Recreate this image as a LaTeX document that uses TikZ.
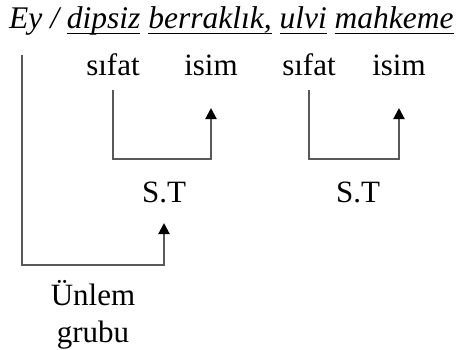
\documentclass[tikz,border=0pt]{standalone}
\usepackage{fontspec}
\setmainfont{Liberation Serif}
\usetikzlibrary{arrows.meta}
\newcommand\myul[1]{\setbox0\hbox{#1}\rlap{\rule[-6pt]{\wd0}{1.3pt}}\box0\relax}
\begin{document}
\begin{tikzpicture}[x=1pt,y=-1pt,
  lbl/.style={inner sep=0pt,anchor=base,font=\fontsize{31}{36}\selectfont},
  conn/.style={draw=black!65,line width=2pt},
  arr/.style={conn,-{Triangle[length=11pt,width=11pt,fill=black,color=black]}}]
\useasboundingbox (0,0) rectangle (464,349);
\node[lbl,anchor=base west,font=\fontsize{31.5}{36}\selectfont\itshape] (title) at (9,28)
  {Ey / \myul{dipsiz} \myul{berraklık,} \myul{ulvi} \myul{mahkeme}};
\coordinate (c0) at (22,55);
\node[lbl] (s1) at (113,75) {sıfat};
\node[lbl] (i1) at (211,75) {isim};
\node[lbl] (s2) at (309,75) {sıfat};
\node[lbl] (i2) at (399,75) {isim};
\node[lbl] (st1) at (164,202) {S.T};
\node[lbl] (st2) at (358,202) {S.T};
\node[lbl] (u1) at (93,305) {Ünlem};
\node[lbl] (u2) at (93,342) {grubu};
\draw[arr] ([yshift=-15pt]s1.base) -- ++(0,69) -| ([yshift=-33pt]i1.base);
\draw[arr] ([yshift=-15pt]s2.base) -- ++(0,69) -| ([yshift=-33pt]i2.base);
\draw[arr] (c0) -- ++(0,210) -| ([yshift=-21pt]st1.base);
\end{tikzpicture}
\end{document}
